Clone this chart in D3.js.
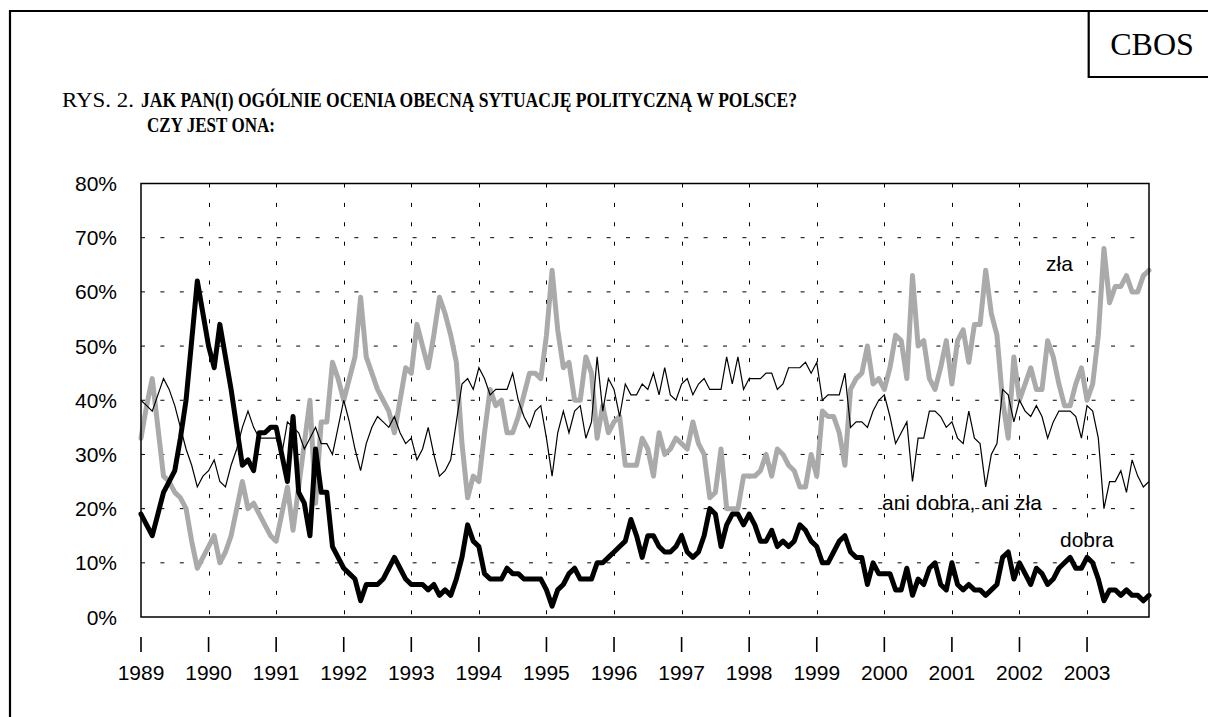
<!DOCTYPE html>
<html>
<head>
<meta charset="utf-8">
<script src="https://cdn.jsdelivr.net/npm/d3@7"></script>
<style>
  html, body { margin: 0; padding: 0; background: #fff; }
  svg { display: block; }
</style>
</head>
<body>
<svg id="chart" width="1208" height="717"></svg>
<script>
// ---- DATA (monthly, Jan 1989 - Dec 2003) ----
const years = ["1989","1990","1991","1992","1993","1994","1995","1996","1997","1998","1999","2000","2001","2002","2003"];
const yTicks = [0, 10, 20, 30, 40, 50, 60, 70, 80];

const dobra = [
 19,17,15,19,23,25,27,33,40,51, 62,56,50,46,54,48,42,35,28,29,
 27,34,34,35,35,30,25,37,23,21, 15,31,23,23,13,11,9,8,7,3,
 6,6,6,7,9,11,9,7,6,6, 6,5,6,4,5,4,7,11,17,14,
 13,8,7,7,7,9,8,8,7,7, 7,7,5,2,5,6,8,9,7,7,
 7,10,10,11,12,13,14,18,15,11, 15,15,13,12,12,13,15,12,11,12,
 15,20,19,13,17,19,19,17,19,17, 14,14,16,13,14,13,14,17,16,14,
 13,10,10,12,14,15,12,11,11,6, 10,8,8,8,5,5,9,4,7,6,
 9,10,6,5,10,6,5,6,5,5, 4,5,6,11,12,7,10,8,6,9,
 8,6,7,9,10,11,9,9,11,10, 7,3,5,5,4,5,4,4,3,4
];
const zla = [
 33,39,44,35,26,25,23,22,20,14, 9,11,13,15,10,12,15,20,25,20,
 21,19,17,15,14,19,24,16,24,32, 40,21,36,36,47,44,40,44,48,59,
 48,45,42,40,38,34,40,46,45,54, 50,46,52,59,56,52,47,32,22,26,
 25,34,42,39,40,34,34,37,41,45, 45,44,52,64,53,46,47,40,40,48,
 45,33,39,34,36,37,28,28,28,33, 31,26,34,30,31,33,32,31,36,32,
 30,22,23,31,20,20,20,26,26,26, 27,30,26,31,30,28,27,24,24,30,
 26,38,37,37,34,28,42,44,45,50, 43,44,42,46,52,51,44,63,50,51,
 44,42,46,51,43,51,53,47,54,54, 64,56,52,40,33,48,40,43,46,42,
 42,51,48,43,39,39,43,46,40,43, 52,68,58,61,61,63,60,60,63,64
];
const ani = [
 40,39,38,41,44,42,39,35,31,28, 24,26,27,29,25,24,28,31,35,38,
 35,33,33,33,33,30,36,35,34,31, 33,35,32,32,30,35,40,36,31,27,
 32,35,37,36,35,37,34,32,33,29, 31,35,30,26,27,29,36,43,44,42,
 46,44,41,42,42,42,45,40,37,35, 38,39,33,26,34,38,34,38,39,33,
 36,48,38,44,42,37,43,41,41,43, 42,45,41,46,41,40,43,44,41,43,
 44,42,42,42,48,43,48,42,44,44, 44,45,45,42,43,46,46,46,47,45,
 47,40,41,41,41,45,35,36,36,35, 38,40,41,37,32,34,36,25,33,33,
 38,38,37,35,36,33,32,38,33,32, 24,30,32,42,41,36,40,38,37,39,
 37,33,36,38,38,38,37,33,39,38, 33,20,25,25,27,23,29,26,24,25
];
const seriesNames = ["zła", "ani dobra, ani zła", "dobra"];

// ---- LAYOUT ----
const svg = d3.select("#chart");
const plot = { left: 141, right: 1149, top: 183.5, bottom: 617 };
const x = d3.scaleLinear().domain([0, dobra.length - 1]).range([plot.left, plot.right]);
const y = d3.scaleLinear().domain([0, 80]).range([plot.bottom, plot.top]);
const sans = "'Liberation Sans', Arial, sans-serif";
const serif = "'Liberation Serif', 'Times New Roman', serif";

// outer frame
svg.append("path").attr("d", "M10,717 V11 H1208").attr("fill", "none").attr("stroke", "#000").attr("stroke-width", 2.2);
// CBOS box
svg.append("path").attr("d", "M1088.7,11 V77 H1208").attr("fill", "none").attr("stroke", "#000").attr("stroke-width", 2.2);
svg.append("text").attr("x", 1152).attr("y", 55).attr("text-anchor", "middle")
  .attr("font-family", serif).attr("font-size", 32).text("CBOS");

// title
svg.append("text").attr("x", 62).attr("y", 107).attr("font-family", serif).attr("font-size", 20)
  .attr("textLength", 72).attr("lengthAdjust", "spacingAndGlyphs").text("RYS. 2.");
svg.append("text").attr("x", 141).attr("y", 107).attr("font-family", serif).attr("font-size", 20).attr("font-weight", "bold")
  .attr("textLength", 656).attr("lengthAdjust", "spacingAndGlyphs")
  .text("JAK PAN(I) OGÓLNIE OCENIA OBECNĄ SYTUACJĘ POLITYCZNĄ W POLSCE?");
svg.append("text").attr("x", 147).attr("y", 132).attr("font-family", serif).attr("font-size", 20).attr("font-weight", "bold")
  .attr("textLength", 128).attr("lengthAdjust", "spacingAndGlyphs")
  .text("CZY JEST ONA:");

// gridlines
const g = svg.append("g");
const dash = "4,15.4";
yTicks.filter(v => v > 0 && v < 80).forEach(v => {
  g.append("line").attr("x1", plot.left).attr("x2", plot.right).attr("y1", y(v)).attr("y2", y(v))
    .attr("stroke", "#000").attr("stroke-width", 1).attr("stroke-dasharray", dash);
});
years.forEach((yr, k) => {
  if (k === 0) return;
  const xx = Math.round(x(k * 12)) + 0.5;
  g.append("line").attr("x1", xx).attr("x2", xx).attr("y1", plot.top).attr("y2", plot.bottom)
    .attr("stroke", "#000").attr("stroke-width", 1).attr("stroke-dasharray", dash);
});

// y axis labels
yTicks.forEach(v => {
  svg.append("text").attr("x", 117).attr("y", y(v)).attr("dy", "0.36em").attr("text-anchor", "end")
    .attr("font-family", sans).attr("font-size", 21).text(v + "%");
});

// x tick marks and labels
years.forEach((yr, k) => {
  const xx = x(k * 12);
  svg.append("line").attr("x1", xx).attr("x2", xx).attr("y1", 637).attr("y2", 652)
    .attr("stroke", "#000").attr("stroke-width", 1.6);
  svg.append("text").attr("x", xx).attr("y", 680).attr("text-anchor", "middle")
    .attr("font-family", sans).attr("font-size", 21).text(yr);
});

// series
const line = d3.line().x((d, i) => x(i)).y(d => y(d)).curve(d3.curveLinear);
svg.append("path").datum(zla).attr("d", line).attr("fill", "none").attr("stroke", "#aaaaaa")
  .attr("stroke-width", 5).attr("stroke-linejoin", "round").attr("stroke-linecap", "round");
svg.append("path").datum(ani).attr("d", line).attr("fill", "none").attr("stroke", "#000")
  .attr("stroke-width", 1.2).attr("stroke-linejoin", "miter");
svg.append("path").datum(dobra).attr("d", line).attr("fill", "none").attr("stroke", "#000")
  .attr("stroke-width", 5).attr("stroke-linejoin", "round").attr("stroke-linecap", "round");

// plot frame
svg.append("rect").attr("x", plot.left).attr("y", plot.top).attr("width", plot.right - plot.left)
  .attr("height", plot.bottom - plot.top).attr("fill", "none").attr("stroke", "#000").attr("stroke-width", 1.5);

// series labels
svg.append("text").attr("x", 1046).attr("y", 271).attr("font-family", sans).attr("font-size", 21).text(seriesNames[0]);
svg.append("text").attr("x", 882).attr("y", 510).attr("font-family", sans).attr("font-size", 21).text(seriesNames[1]);
svg.append("text").attr("x", 1060).attr("y", 547).attr("font-family", sans).attr("font-size", 21).text(seriesNames[2]);
</script>
</body>
</html>
